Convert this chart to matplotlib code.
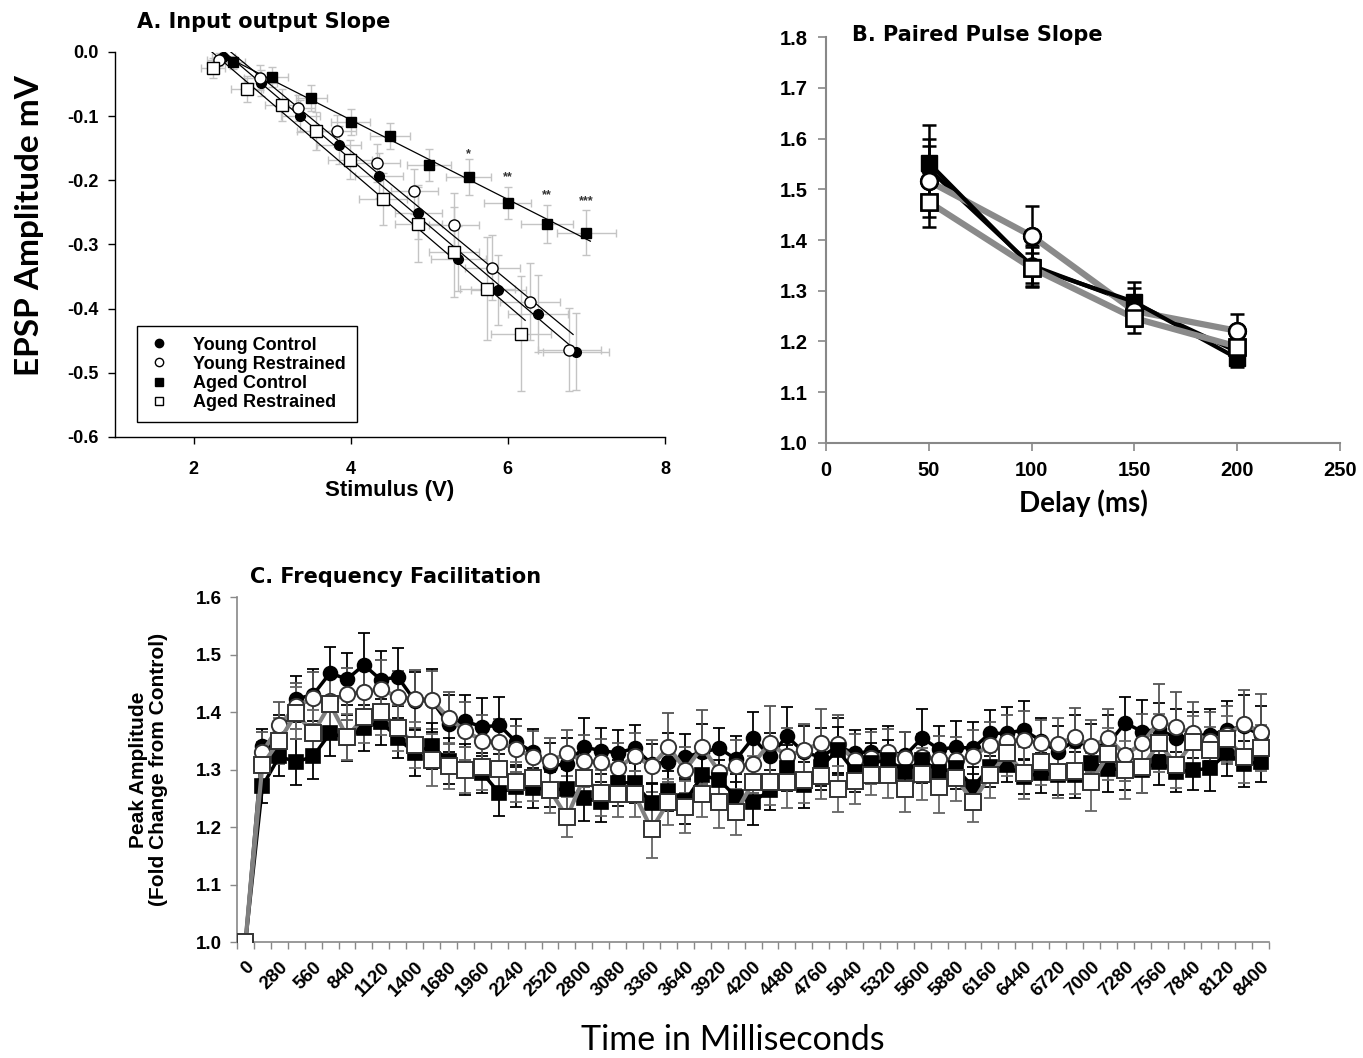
import matplotlib
matplotlib.use("Agg")
import matplotlib.pyplot as plt
import numpy as np
from matplotlib.lines import Line2D

# ---------------- Panel A data ----------------
a_yc_x = [2.38, 2.86, 3.36, 3.85, 4.36, 4.86, 5.37, 5.88, 6.38, 6.87]
a_yc_y = [-0.008, -0.048, -0.100, -0.145, -0.193, -0.251, -0.322, -0.371, -0.408, -0.467]
a_yc_xerr = [0.15, 0.2, 0.25, 0.28, 0.3, 0.3, 0.35, 0.35, 0.38, 0.42]
a_yc_yerr = [0.01, 0.02, 0.025, 0.03, 0.035, 0.04, 0.05, 0.055, 0.06, 0.06]

a_yr_x = [2.32, 2.84, 3.33, 3.82, 4.33, 4.81, 5.31, 5.80, 6.28, 6.78]
a_yr_y = [-0.012, -0.040, -0.087, -0.123, -0.173, -0.217, -0.270, -0.336, -0.389, -0.464]
a_yr_xerr = [0.15, 0.2, 0.22, 0.25, 0.3, 0.3, 0.32, 0.35, 0.38, 0.4]
a_yr_yerr = [0.01, 0.02, 0.02, 0.025, 0.03, 0.035, 0.05, 0.05, 0.06, 0.065]

a_ac_x = [2.5, 3.0, 3.5, 4.0, 4.5, 5.0, 5.5, 6.0, 6.5, 7.0]
a_ac_y = [-0.016, -0.039, -0.072, -0.109, -0.131, -0.176, -0.195, -0.235, -0.268, -0.282]
a_ac_xerr = [0.15, 0.2, 0.2, 0.25, 0.25, 0.28, 0.29, 0.3, 0.33, 0.37]
a_ac_yerr = [0.01, 0.015, 0.02, 0.02, 0.02, 0.025, 0.028, 0.025, 0.03, 0.035]

a_ar_x = [2.25, 2.68, 3.13, 3.56, 3.99, 4.41, 4.86, 5.31, 5.74, 6.17]
a_ar_y = [-0.025, -0.058, -0.083, -0.123, -0.168, -0.229, -0.268, -0.312, -0.369, -0.439]
a_ar_xerr = [0.15, 0.2, 0.22, 0.25, 0.28, 0.3, 0.3, 0.32, 0.35, 0.38]
a_ar_yerr = [0.015, 0.02, 0.025, 0.03, 0.03, 0.04, 0.06, 0.07, 0.08, 0.09]

sig_x = [5.5, 6.0, 6.5, 7.0]
sig_y = [-0.160, -0.195, -0.223, -0.232]
sig_lab = ["*", "**", "**", "***"]

# ---------------- Panel B data ----------------
b_delay = [50, 100, 150, 200]
b_yc = [1.540, 1.350, 1.275, 1.180]
b_yc_err = [0.06, 0.04, 0.03, 0.02]
b_yr = [1.516, 1.408, 1.260, 1.221]
b_yr_err = [0.07, 0.06, 0.03, 0.033]
b_ac = [1.552, 1.347, 1.278, 1.167]
b_ac_err = [0.075, 0.04, 0.04, 0.017]
b_ar = [1.475, 1.345, 1.246, 1.190]
b_ar_err = [0.05, 0.03, 0.03, 0.03]

# ---------------- Panel C data ----------------
c_time = [0, 140, 280, 420, 560, 700, 840, 980, 1120, 1260,
          1400, 1540, 1680, 1820, 1960, 2100, 2240, 2380, 2520, 2660,
          2800, 2940, 3080, 3220, 3360, 3500, 3640, 3780, 3920, 4060,
          4200, 4340, 4480, 4620, 4760, 4900, 5040, 5180, 5320, 5460,
          5600, 5740, 5880, 6020, 6160, 6300, 6440, 6580, 6720, 6860,
          7000, 7140, 7280, 7420, 7560, 7700, 7840, 7980, 8120, 8260,
          8400]
c_yc = [1.0, 1.341, 1.36, 1.423, 1.43, 1.468, 1.457, 1.482, 1.456, 1.461,
        1.42, 1.42, 1.38, 1.384, 1.374, 1.377, 1.348, 1.33, 1.306, 1.31,
        1.339, 1.333, 1.329, 1.337, 1.31, 1.313, 1.322, 1.33, 1.337, 1.318,
        1.355, 1.323, 1.358, 1.33, 1.322, 1.34, 1.329, 1.331, 1.331, 1.325,
        1.355, 1.335, 1.339, 1.337, 1.363, 1.363, 1.369, 1.35, 1.331, 1.35,
        1.34, 1.345, 1.381, 1.366, 1.37, 1.355, 1.36, 1.36, 1.369, 1.375,
        1.36]
c_yr = [1.0, 1.33, 1.377, 1.41, 1.424, 1.42, 1.431, 1.435, 1.44, 1.426,
        1.423, 1.421, 1.39, 1.367, 1.35, 1.348, 1.335, 1.322, 1.315, 1.328,
        1.315, 1.313, 1.302, 1.324, 1.306, 1.339, 1.30, 1.339, 1.296, 1.306,
        1.31, 1.346, 1.323, 1.334, 1.346, 1.344, 1.317, 1.32, 1.33, 1.32,
        1.322, 1.318, 1.317, 1.323, 1.343, 1.35, 1.351, 1.346, 1.344, 1.357,
        1.341, 1.355, 1.325, 1.346, 1.383, 1.374, 1.363, 1.35, 1.36, 1.379,
        1.366]
c_ac = [1.0, 1.271, 1.323, 1.313, 1.323, 1.363, 1.355, 1.372, 1.383, 1.355,
        1.328, 1.341, 1.315, 1.30, 1.294, 1.259, 1.27, 1.268, 1.265, 1.266,
        1.25, 1.244, 1.277, 1.277, 1.241, 1.263, 1.245, 1.29, 1.282, 1.252,
        1.244, 1.264, 1.302, 1.273, 1.304, 1.334, 1.296, 1.311, 1.317, 1.296,
        1.317, 1.296, 1.302, 1.27, 1.304, 1.308, 1.287, 1.294, 1.29, 1.29,
        1.311, 1.301, 1.30, 1.30, 1.313, 1.296, 1.299, 1.302, 1.328, 1.31,
        1.313]
c_ar = [1.0, 1.308, 1.35, 1.398, 1.363, 1.414, 1.357, 1.391, 1.40, 1.372,
        1.343, 1.317, 1.306, 1.30, 1.304, 1.301, 1.278, 1.285, 1.264, 1.217,
        1.286, 1.259, 1.257, 1.257, 1.196, 1.244, 1.235, 1.257, 1.244, 1.226,
        1.278, 1.278, 1.278, 1.282, 1.289, 1.266, 1.28, 1.29, 1.29, 1.266,
        1.292, 1.27, 1.285, 1.244, 1.29, 1.328, 1.294, 1.313, 1.296, 1.298,
        1.278, 1.327, 1.299, 1.304, 1.346, 1.308, 1.348, 1.334, 1.353, 1.322,
        1.337]
c_yc_err = [0, .03, .035, .04, .045, .045, .045, .055, .05, .05,
            .05, .055, .05, .045, .05, .05, .04, .04, .04, .045,
            .05, .04, .04, .04, .035, .05, .04, .05, .035, .04,
            .045, .04, .05, .045, .05, .05, .04, .04, .045, .04,
            .05, .04, .045, .045, .04, .045, .05, .04, .045, .045,
            .04, .05, .045, .055, .045, .05, .04, .045, .05, .055,
            .05]
c_yr_err = [0, .035, .04, .04, .045, .05, .045, .05, .05, .045,
            .05, .05, .045, .05, .045, .04, .04, .045, .04, .04,
            .045, .04, .045, .04, .045, .06, .04, .065, .04, .045,
            .05, .065, .05, .045, .06, .05, .045, .045, .04, .045,
            .04, .04, .04, .045, .04, .045, .05, .04, .045, .05,
            .045, .05, .045, .05, .065, .06, .055, .05, .05, .06,
            .065]
c_ac_err = [0, .03, .035, .04, .04, .04, .04, .04, .04, .035,
            .04, .04, .04, .045, .035, .04, .035, .035, .03, .035,
            .04, .035, .04, .035, .035, .035, .04, .04, .035, .04,
            .04, .035, .04, .04, .04, .04, .035, .035, .035, .035,
            .04, .035, .035, .035, .035, .03, .03, .035, .035, .04,
            .035, .04, .035, .04, .04, .035, .035, .04, .04, .04,
            .035]
c_ar_err = [0, .04, .04, .045, .04, .05, .04, .045, .04, .04,
            .04, .045, .04, .04, .04, .035, .035, .04, .04, .035,
            .04, .04, .04, .04, .05, .04, .045, .04, .045, .04,
            .045, .04, .045, .04, .04, .04, .04, .035, .04, .04,
            .045, .045, .04, .035, .04, .04, .045, .04, .045, .04,
            .05, .045, .05, .045, .05, .04, .045, .04, .04, .045,
            .04]

series_names = ["Young Control", "Young Restrained", "Aged Control", "Aged Restrained"]

ARIAL = "Liberation Sans"
WIDE = "DejaVu Sans"
CAL = "Lato"

fig = plt.figure(figsize=(13.63, 10.58), dpi=100)

# ======================= Panel A =======================
axA = fig.add_axes([0.0844, 0.5870, 0.4035, 0.3639])
ecol = "#c4c4c4"
styleA = [
    (a_yc_x, a_yc_y, a_yc_xerr, a_yc_yerr, dict(marker="o", mfc="black", mec="black", ms=7)),
    (a_yr_x, a_yr_y, a_yr_xerr, a_yr_yerr, dict(marker="o", mfc="white", mec="black", ms=8)),
    (a_ac_x, a_ac_y, a_ac_xerr, a_ac_yerr, dict(marker="s", mfc="black", mec="black", ms=7.5)),
    (a_ar_x, a_ar_y, a_ar_xerr, a_ar_yerr, dict(marker="s", mfc="white", mec="black", ms=8)),
]
for xs, ys, xe, ye, st in styleA:
    axA.errorbar(xs, ys, xerr=xe, yerr=ye, fmt="none", ecolor=ecol, elinewidth=1.0,
                 capsize=3, capthick=1.0, zorder=1)
for xs, ys, xe, ye, st in styleA:
    coef = np.polyfit(xs, ys, 1)
    xl = np.array([min(xs) - 0.05, max(xs) + 0.05])
    axA.plot(xl, np.polyval(coef, xl), color="black", lw=0.9, zorder=2)
for xs, ys, xe, ye, st in styleA:
    axA.plot(xs, ys, linestyle="none", mew=1.0, zorder=3, **st)
for sx, sy, sl in zip(sig_x, sig_y, sig_lab):
    axA.text(sx, sy, sl, ha="center", va="center", fontsize=9, fontweight="bold",
             family=ARIAL, color="#333333")

axA.set_xlim(1, 8)
axA.set_ylim(-0.6, 0.0)
axA.set_xticks([2, 4, 6, 8])
axA.set_yticks([-0.6, -0.5, -0.4, -0.3, -0.2, -0.1, 0.0])
axA.set_yticklabels(["-0.6", "-0.5", "-0.4", "-0.3", "-0.2", "-0.1", "0.0"])
for s in ["top", "right"]:
    axA.spines[s].set_visible(False)
for s in ["left", "bottom"]:
    axA.spines[s].set_color("black")
    axA.spines[s].set_linewidth(1.0)
axA.tick_params(direction="out", length=5, width=1, labelsize=13, pad=7)
axA.tick_params(axis="x", pad=12)
for lab in axA.get_xticklabels() + axA.get_yticklabels():
    lab.set_fontweight("bold")
    lab.set_family(ARIAL)
axA.set_xlabel("Stimulus (V)", fontsize=16, fontweight="bold", family=ARIAL, labelpad=2)
fig.text(0.022, 0.787, "EPSP Amplitude mV", rotation=90, ha="center", va="center",
         fontsize=24, fontweight="bold", family=CAL)
fig.text(0.1005, 0.979, "A. Input output Slope", ha="left", va="center",
         fontsize=15, fontweight="bold", family=WIDE)

handles = [
    Line2D([], [], marker="o", mfc="black", mec="black", ms=6, ls="none"),
    Line2D([], [], marker="o", mfc="white", mec="black", ms=6, ls="none"),
    Line2D([], [], marker="s", mfc="black", mec="black", ms=6, ls="none"),
    Line2D([], [], marker="s", mfc="white", mec="black", ms=6, ls="none"),
]
leg = axA.legend(handles, series_names, loc="lower left", bbox_to_anchor=(0.04, 0.039),
                 frameon=True, fancybox=False, edgecolor="black", framealpha=1,
                 prop=dict(family=ARIAL, weight="bold", size=13),
                 handlelength=1.2, handletextpad=1.3, labelspacing=0.12,
                 borderpad=0.6, borderaxespad=0)
leg.get_frame().set_linewidth(1.0)

# ======================= Panel B =======================
axB = fig.add_axes([0.606, 0.5813, 0.3771, 0.3837])
gray = "#8a8a8a"
axB.errorbar(b_delay, b_yr, yerr=b_yr_err, color=gray, lw=4.5, ecolor="black",
             elinewidth=1.8, capsize=5, capthick=1.8, marker="o", mfc="white",
             mec="black", mew=1.8, ms=12, zorder=3)
axB.errorbar(b_delay, b_ar, yerr=b_ar_err, color=gray, lw=4.5, ecolor="black",
             elinewidth=1.8, capsize=5, capthick=1.8, marker="s", mfc="white",
             mec="black", mew=1.8, ms=12, zorder=4)
axB.errorbar(b_delay, b_yc, yerr=b_yc_err, color="black", lw=3, ecolor="black",
             elinewidth=1.8, capsize=5, capthick=1.8, marker="o", mfc="black",
             mec="black", ms=11, zorder=2)
axB.errorbar(b_delay, b_ac, yerr=b_ac_err, color="black", lw=3, ecolor="black",
             elinewidth=1.8, capsize=5, capthick=1.8, marker="s", mfc="black",
             mec="black", ms=12, zorder=3.5)
axB.plot(b_delay, b_yr, ls="none", marker="o", mfc="white", mec="black", mew=1.8, ms=12, zorder=5)
axB.plot(b_delay, b_ar, ls="none", marker="s", mfc="white", mec="black", mew=1.8, ms=12, zorder=6)

axB.set_xlim(0, 250)
axB.set_ylim(1.0, 1.8)
axB.set_xticks([0, 50, 100, 150, 200, 250])
axB.set_yticks([1.0, 1.1, 1.2, 1.3, 1.4, 1.5, 1.6, 1.7, 1.8])
axB.set_yticklabels(["1.0", "1.1", "1.2", "1.3", "1.4", "1.5", "1.6", "1.7", "1.8"])
for s in ["top", "right"]:
    axB.spines[s].set_visible(False)
for s in ["left", "bottom"]:
    axB.spines[s].set_color("#888888")
    axB.spines[s].set_linewidth(1.5)
axB.tick_params(direction="out", length=6, width=1.2, color="#888888", labelsize=14.5, pad=7)
for lab in axB.get_xticklabels() + axB.get_yticklabels():
    lab.set_fontweight("bold")
    lab.set_family(ARIAL)
axB.set_xlabel("Delay (ms)", fontsize=20, fontweight="bold", family=CAL, labelpad=7)
fig.text(0.625, 0.967, "B. Paired Pulse Slope", ha="left", va="center",
         fontsize=15, fontweight="bold", family=WIDE)

# ======================= Panel C =======================
axC = fig.add_axes([0.1739, 0.1096, 0.7572, 0.3261])
idx = np.arange(len(c_time))
axC.errorbar(idx, c_yc, yerr=c_yc_err, fmt="none", ecolor="black", elinewidth=1.3,
             capsize=4, capthick=1.3, zorder=1)
axC.errorbar(idx, c_yr, yerr=c_yr_err, fmt="none", ecolor="#555555", elinewidth=1.3,
             capsize=4, capthick=1.3, zorder=1)
axC.errorbar(idx, c_ac, yerr=c_ac_err, fmt="none", ecolor="black", elinewidth=1.3,
             capsize=4, capthick=1.3, zorder=1)
axC.errorbar(idx, c_ar, yerr=c_ar_err, fmt="none", ecolor="#666666", elinewidth=1.3,
             capsize=4, capthick=1.3, zorder=1)
axC.plot(idx, c_yc, color="black", lw=2.5, marker="o", mfc="black", mec="black",
         ms=10, mew=1.2, zorder=2)
axC.plot(idx, c_yr, color="#808080", lw=3, marker="o", mfc="white", mec="#333333",
         ms=11, mew=1.4, zorder=3)
axC.plot(idx, c_ac, color="black", lw=2.5, marker="s", mfc="black", mec="black",
         ms=10, mew=1.2, zorder=4)
axC.plot(idx, c_ar, color="#808080", lw=3, marker="s", mfc="white", mec="#333333",
         ms=11, mew=1.4, zorder=5)

axC.set_xlim(-0.5, len(c_time) - 0.5)
axC.set_ylim(1.0, 1.6)
axC.set_yticks([1.0, 1.1, 1.2, 1.3, 1.4, 1.5, 1.6])
axC.set_yticklabels(["1.0", "1.1", "1.2", "1.3", "1.4", "1.5", "1.6"])
axC.set_xticks(idx[::2])
axC.set_xticklabels([str(t) for t in c_time[::2]], rotation=45, ha="right",
                    rotation_mode="anchor")
axC.set_xticks(np.arange(-0.5, len(c_time), 1.0), minor=True)
axC.tick_params(axis="x", which="major", length=0, pad=12, labelsize=13.5)
axC.tick_params(axis="x", which="minor", length=5, width=1, color="#888888", direction="out")
axC.tick_params(axis="y", direction="out", length=5, width=1, color="#888888",
                labelsize=13.5, pad=6)
for lab in axC.get_xticklabels() + axC.get_yticklabels():
    lab.set_fontweight("bold")
    lab.set_family(ARIAL)
for s in ["top", "right"]:
    axC.spines[s].set_visible(False)
for s in ["left", "bottom"]:
    axC.spines[s].set_color("#888888")
    axC.spines[s].set_linewidth(1.2)
axC.set_ylabel("Peak Amplitude\n(Fold Change from Control)", fontsize=15,
               fontweight="bold", family=ARIAL, labelpad=20, linespacing=1.05)
fig.text(0.5375, 0.017, "Time in Milliseconds", ha="center", va="center",
         fontsize=24.5, family=CAL)
fig.text(0.1834, 0.455, "C. Frequency Facilitation", ha="left", va="center",
         fontsize=15, fontweight="bold", family=WIDE)

fig.savefig("out.png", dpi=100, facecolor="white")
